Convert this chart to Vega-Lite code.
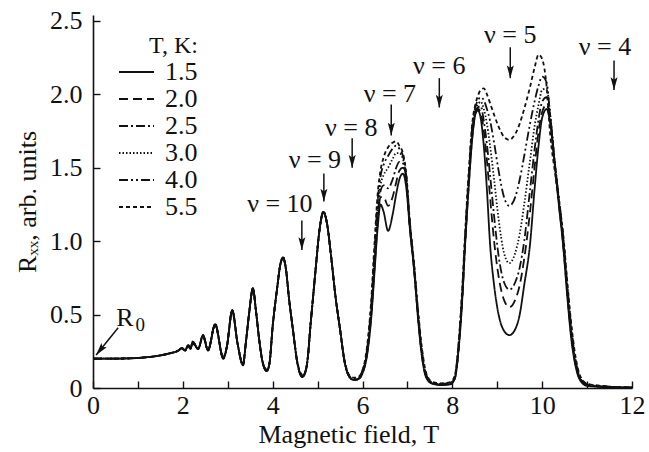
{
  "$schema": "https://vega.github.io/schema/vega-lite/v6.json",
  "width": 539,
  "height": 373,
  "autosize": {"type": "none"},
  "padding": {"left": 93, "top": 15, "right": 17, "bottom": 64},
  "background": "white",
  "config": {
    "font": "Liberation Serif",
    "view": {"stroke": null},
    "axis": {"labelFlush": false, "labelOverlap": false, "grid": false, "labelColor": "#111", "titleColor": "#111", "domainColor": "#111", "tickColor": "#111", "domainWidth": 1.6, "tickWidth": 1.4, "tickSize": -7, "labelFontSize": 26, "titleFontSize": 26, "titleFontWeight": "normal"}
  },
  "layer": [
    {
      "data": {"values": [
        {"B":0,"t15":0.2,"t20":0.2,"t25":0.2,"t30":0.2,"t40":0.2,"t55":0.2},
        {"B":0.4,"t15":0.2,"t20":0.2,"t25":0.2,"t30":0.2,"t40":0.2,"t55":0.2},
        {"B":0.8,"t15":0.202,"t20":0.202,"t25":0.202,"t30":0.202,"t40":0.202,"t55":0.202},
        {"B":1.1,"t15":0.207,"t20":0.207,"t25":0.207,"t30":0.207,"t40":0.207,"t55":0.207},
        {"B":1.4,"t15":0.217,"t20":0.217,"t25":0.217,"t30":0.217,"t40":0.217,"t55":0.217},
        {"B":1.7,"t15":0.235,"t20":0.235,"t25":0.235,"t30":0.235,"t40":0.235,"t55":0.235},
        {"B":1.9,"t15":0.255,"t20":0.255,"t25":0.255,"t30":0.255,"t40":0.255,"t55":0.255},
        {"B":1.98,"t15":0.272,"t20":0.272,"t25":0.272,"t30":0.272,"t40":0.27,"t55":0.266},
        {"B":2.05,"t15":0.255,"t20":0.255,"t25":0.255,"t30":0.255,"t40":0.256,"t55":0.258},
        {"B":2.12,"t15":0.292,"t20":0.292,"t25":0.292,"t30":0.292,"t40":0.288,"t55":0.282},
        {"B":2.17,"t15":0.268,"t20":0.268,"t25":0.268,"t30":0.268,"t40":0.268,"t55":0.268},
        {"B":2.22,"t15":0.315,"t20":0.315,"t25":0.315,"t30":0.315,"t40":0.31,"t55":0.3},
        {"B":2.34,"t15":0.265,"t20":0.265,"t25":0.265,"t30":0.265,"t40":0.267,"t55":0.27},
        {"B":2.45,"t15":0.36,"t20":0.36,"t25":0.36,"t30":0.36,"t40":0.355,"t55":0.345},
        {"B":2.56,"t15":0.255,"t20":0.255,"t25":0.255,"t30":0.255,"t40":0.258,"t55":0.263},
        {"B":2.72,"t15":0.435,"t20":0.435,"t25":0.435,"t30":0.435,"t40":0.43,"t55":0.42},
        {"B":2.9,"t15":0.2,"t20":0.2,"t25":0.2,"t30":0.2,"t40":0.205,"t55":0.21},
        {"B":2.98,"t15":0.28,"t20":0.28,"t25":0.28,"t30":0.28,"t40":0.28,"t55":0.285},
        {"B":3.1,"t15":0.53,"t20":0.53,"t25":0.53,"t30":0.53,"t40":0.525,"t55":0.515},
        {"B":3.22,"t15":0.3,"t20":0.3,"t25":0.3,"t30":0.3,"t40":0.3,"t55":0.3},
        {"B":3.34,"t15":0.155,"t20":0.155,"t25":0.155,"t30":0.155,"t40":0.16,"t55":0.166},
        {"B":3.4,"t15":0.3,"t20":0.3,"t25":0.3,"t30":0.3,"t40":0.3,"t55":0.3},
        {"B":3.48,"t15":0.52,"t20":0.52,"t25":0.52,"t30":0.52,"t40":0.52,"t55":0.52},
        {"B":3.56,"t15":0.68,"t20":0.68,"t25":0.68,"t30":0.68,"t40":0.676,"t55":0.67},
        {"B":3.63,"t15":0.52,"t20":0.52,"t25":0.52,"t30":0.52,"t40":0.52,"t55":0.52},
        {"B":3.7,"t15":0.33,"t20":0.33,"t25":0.33,"t30":0.33,"t40":0.33,"t55":0.33},
        {"B":3.78,"t15":0.17,"t20":0.17,"t25":0.17,"t30":0.17,"t40":0.172,"t55":0.175},
        {"B":3.87,"t15":0.115,"t20":0.115,"t25":0.115,"t30":0.115,"t40":0.12,"t55":0.126},
        {"B":3.93,"t15":0.17,"t20":0.17,"t25":0.17,"t30":0.17,"t40":0.17,"t55":0.17},
        {"B":4.0,"t15":0.42,"t20":0.42,"t25":0.42,"t30":0.42,"t40":0.42,"t55":0.42},
        {"B":4.1,"t15":0.68,"t20":0.68,"t25":0.68,"t30":0.68,"t40":0.68,"t55":0.68},
        {"B":4.17,"t15":0.84,"t20":0.84,"t25":0.84,"t30":0.84,"t40":0.84,"t55":0.84},
        {"B":4.23,"t15":0.89,"t20":0.89,"t25":0.89,"t30":0.89,"t40":0.885,"t55":0.88},
        {"B":4.3,"t15":0.8,"t20":0.8,"t25":0.8,"t30":0.8,"t40":0.8,"t55":0.8},
        {"B":4.36,"t15":0.62,"t20":0.62,"t25":0.62,"t30":0.62,"t40":0.62,"t55":0.62},
        {"B":4.45,"t15":0.4,"t20":0.4,"t25":0.4,"t30":0.4,"t40":0.4,"t55":0.4},
        {"B":4.55,"t15":0.17,"t20":0.17,"t25":0.17,"t30":0.17,"t40":0.175,"t55":0.18},
        {"B":4.66,"t15":0.075,"t20":0.075,"t25":0.075,"t30":0.075,"t40":0.083,"t55":0.092},
        {"B":4.72,"t15":0.1,"t20":0.1,"t25":0.1,"t30":0.1,"t40":0.105,"t55":0.11},
        {"B":4.78,"t15":0.2,"t20":0.2,"t25":0.2,"t30":0.2,"t40":0.2,"t55":0.2},
        {"B":4.84,"t15":0.42,"t20":0.42,"t25":0.42,"t30":0.42,"t40":0.42,"t55":0.42},
        {"B":4.9,"t15":0.62,"t20":0.62,"t25":0.62,"t30":0.62,"t40":0.62,"t55":0.62},
        {"B":4.96,"t15":0.82,"t20":0.82,"t25":0.82,"t30":0.82,"t40":0.82,"t55":0.82},
        {"B":5.04,"t15":1.07,"t20":1.07,"t25":1.07,"t30":1.07,"t40":1.07,"t55":1.07},
        {"B":5.13,"t15":1.2,"t20":1.2,"t25":1.2,"t30":1.2,"t40":1.2,"t55":1.19},
        {"B":5.21,"t15":1.12,"t20":1.12,"t25":1.12,"t30":1.12,"t40":1.12,"t55":1.12},
        {"B":5.3,"t15":0.9,"t20":0.9,"t25":0.9,"t30":0.9,"t40":0.9,"t55":0.9},
        {"B":5.4,"t15":0.62,"t20":0.62,"t25":0.62,"t30":0.62,"t40":0.62,"t55":0.62},
        {"B":5.5,"t15":0.4,"t20":0.4,"t25":0.4,"t30":0.4,"t40":0.4,"t55":0.4},
        {"B":5.6,"t15":0.18,"t20":0.18,"t25":0.18,"t30":0.18,"t40":0.185,"t55":0.19},
        {"B":5.7,"t15":0.08,"t20":0.08,"t25":0.08,"t30":0.08,"t40":0.085,"t55":0.09},
        {"B":5.8,"t15":0.055,"t20":0.055,"t25":0.055,"t30":0.055,"t40":0.062,"t55":0.07},
        {"B":5.9,"t15":0.06,"t20":0.06,"t25":0.06,"t30":0.06,"t40":0.066,"t55":0.074},
        {"B":6.0,"t15":0.1,"t20":0.1,"t25":0.11,"t30":0.11,"t40":0.12,"t55":0.12},
        {"B":6.1,"t15":0.22,"t20":0.23,"t25":0.24,"t30":0.25,"t40":0.26,"t55":0.28},
        {"B":6.19,"t15":0.46,"t20":0.48,"t25":0.5,"t30":0.52,"t40":0.55,"t55":0.58},
        {"B":6.27,"t15":0.8,"t20":0.83,"t25":0.86,"t30":0.9,"t40":0.95,"t55":1.0},
        {"B":6.34,"t15":1.1,"t20":1.14,"t25":1.18,"t30":1.22,"t40":1.28,"t55":1.33},
        {"B":6.4,"t15":1.25,"t20":1.3,"t25":1.34,"t30":1.38,"t40":1.44,"t55":1.48},
        {"B":6.47,"t15":1.2,"t20":1.3,"t25":1.38,"t30":1.45,"t40":1.52,"t55":1.57},
        {"B":6.57,"t15":1.07,"t20":1.24,"t25":1.36,"t30":1.5,"t40":1.58,"t55":1.64},
        {"B":6.67,"t15":1.18,"t20":1.3,"t25":1.42,"t30":1.56,"t40":1.63,"t55":1.67},
        {"B":6.75,"t15":1.32,"t20":1.4,"t25":1.5,"t30":1.6,"t40":1.65,"t55":1.68},
        {"B":6.82,"t15":1.42,"t20":1.48,"t25":1.54,"t30":1.6,"t40":1.63,"t55":1.65},
        {"B":6.9,"t15":1.46,"t20":1.5,"t25":1.53,"t30":1.56,"t40":1.58,"t55":1.6},
        {"B":6.98,"t15":1.35,"t20":1.38,"t25":1.4,"t30":1.42,"t40":1.43,"t55":1.44},
        {"B":7.05,"t15":1.1,"t20":1.11,"t25":1.12,"t30":1.13,"t40":1.14,"t55":1.15},
        {"B":7.15,"t15":0.8,"t20":0.8,"t25":0.81,"t30":0.82,"t40":0.83,"t55":0.84},
        {"B":7.24,"t15":0.46,"t20":0.47,"t25":0.48,"t30":0.49,"t40":0.5,"t55":0.52},
        {"B":7.32,"t15":0.22,"t20":0.23,"t25":0.24,"t30":0.25,"t40":0.26,"t55":0.28},
        {"B":7.42,"t15":0.07,"t20":0.075,"t25":0.08,"t30":0.085,"t40":0.09,"t55":0.1},
        {"B":7.55,"t15":0.03,"t20":0.032,"t25":0.034,"t30":0.036,"t40":0.038,"t55":0.042},
        {"B":7.75,"t15":0.02,"t20":0.022,"t25":0.024,"t30":0.026,"t40":0.028,"t55":0.032},
        {"B":7.95,"t15":0.025,"t20":0.027,"t25":0.03,"t30":0.032,"t40":0.035,"t55":0.04},
        {"B":8.05,"t15":0.06,"t20":0.06,"t25":0.06,"t30":0.07,"t40":0.07,"t55":0.08},
        {"B":8.15,"t15":0.3,"t20":0.3,"t25":0.31,"t30":0.32,"t40":0.33,"t55":0.35},
        {"B":8.22,"t15":0.6,"t20":0.6,"t25":0.62,"t30":0.63,"t40":0.65,"t55":0.68},
        {"B":8.28,"t15":0.95,"t20":0.95,"t25":0.97,"t30":0.98,"t40":1.0,"t55":1.03},
        {"B":8.36,"t15":1.35,"t20":1.36,"t25":1.38,"t30":1.4,"t40":1.42,"t55":1.45},
        {"B":8.45,"t15":1.72,"t20":1.73,"t25":1.75,"t30":1.77,"t40":1.8,"t55":1.82},
        {"B":8.52,"t15":1.87,"t20":1.88,"t25":1.89,"t30":1.9,"t40":1.92,"t55":1.94},
        {"B":8.57,"t15":1.89,"t20":1.9,"t25":1.91,"t30":1.93,"t40":1.96,"t55":1.99},
        {"B":8.63,"t15":1.84,"t20":1.88,"t25":1.92,"t30":1.95,"t40":1.98,"t55":2.03},
        {"B":8.7,"t15":1.65,"t20":1.75,"t25":1.82,"t30":1.9,"t40":1.96,"t55":2.04},
        {"B":8.77,"t15":1.35,"t20":1.55,"t25":1.66,"t30":1.8,"t40":1.9,"t55":2.0},
        {"B":8.84,"t15":0.98,"t20":1.3,"t25":1.45,"t30":1.65,"t40":1.82,"t55":1.94},
        {"B":8.93,"t15":0.7,"t20":1.0,"t25":1.17,"t30":1.42,"t40":1.67,"t55":1.86},
        {"B":9.03,"t15":0.5,"t20":0.76,"t25":0.9,"t30":1.15,"t40":1.48,"t55":1.78},
        {"B":9.15,"t15":0.39,"t20":0.6,"t25":0.72,"t30":0.92,"t40":1.3,"t55":1.71},
        {"B":9.27,"t15":0.36,"t20":0.55,"t25":0.67,"t30":0.85,"t40":1.24,"t55":1.69},
        {"B":9.4,"t15":0.4,"t20":0.6,"t25":0.72,"t30":0.92,"t40":1.3,"t55":1.73},
        {"B":9.5,"t15":0.5,"t20":0.7,"t25":0.82,"t30":1.05,"t40":1.42,"t55":1.8},
        {"B":9.6,"t15":0.7,"t20":0.88,"t25":1.0,"t30":1.25,"t40":1.58,"t55":1.9},
        {"B":9.73,"t15":0.98,"t20":1.2,"t25":1.35,"t30":1.55,"t40":1.8,"t55":2.05},
        {"B":9.83,"t15":1.35,"t20":1.5,"t25":1.62,"t30":1.78,"t40":1.95,"t55":2.18},
        {"B":9.92,"t15":1.65,"t20":1.75,"t25":1.83,"t30":1.93,"t40":2.06,"t55":2.27},
        {"B":10.0,"t15":1.84,"t20":1.88,"t25":1.95,"t30":2.03,"t40":2.12,"t55":2.24},
        {"B":10.1,"t15":1.9,"t20":1.93,"t25":1.98,"t30":2.04,"t40":2.08,"t55":2.05},
        {"B":10.18,"t15":1.8,"t20":1.83,"t25":1.85,"t30":1.86,"t40":1.84,"t55":1.72},
        {"B":10.27,"t15":1.55,"t20":1.56,"t25":1.57,"t30":1.57,"t40":1.56,"t55":1.5},
        {"B":10.37,"t15":1.25,"t20":1.26,"t25":1.28,"t30":1.29,"t40":1.3,"t55":1.28},
        {"B":10.47,"t15":0.96,"t20":0.97,"t25":0.99,"t30":1.01,"t40":1.03,"t55":1.04},
        {"B":10.56,"t15":0.62,"t20":0.64,"t25":0.66,"t30":0.68,"t40":0.7,"t55":0.72},
        {"B":10.65,"t15":0.33,"t20":0.35,"t25":0.37,"t30":0.39,"t40":0.41,"t55":0.43},
        {"B":10.75,"t15":0.14,"t20":0.15,"t25":0.16,"t30":0.17,"t40":0.18,"t55":0.2},
        {"B":10.85,"t15":0.05,"t20":0.055,"t25":0.06,"t30":0.065,"t40":0.07,"t55":0.08},
        {"B":11.0,"t15":0.015,"t20":0.018,"t25":0.02,"t30":0.022,"t40":0.025,"t55":0.03},
        {"B":11.5,"t15":0.005,"t20":0.006,"t25":0.007,"t30":0.008,"t40":0.009,"t55":0.01},
        {"B":12.0,"t15":0.003,"t20":0.003,"t25":0.003,"t30":0.003,"t40":0.003,"t55":0.003}
      ]},
      "transform": [{"fold": ["t15","t20","t25","t30","t40","t55"], "as": ["T","R"]}],
      "mark": {"type": "line", "interpolate": "monotone", "color": "#111", "strokeWidth": 1.8},
      "encoding": {
        "x": {"field": "B", "type": "quantitative", "scale": {"domain": [0, 12], "nice": false, "zero": false},
          "axis": {"title": "Magnetic field, T", "values": [0,1,2,3,4,5,6,7,8,9,10,11,12], "labelExpr": "datum.value % 2 == 0 ? datum.label : ''", "labelPadding": 11, "titlePadding": 3, "titleX": 165, "titleAlign": "left"}},
        "y": {"field": "R", "type": "quantitative", "scale": {"domain": [0, 2.54], "nice": false},
          "axis": {"title": "Rₓₓ, arb. units", "values": [0,0.25,0.5,0.75,1,1.25,1.5,1.75,2,2.25,2.5], "labelExpr": "datum.value == 0 ? '0' : ((datum.value * 2) % 1 == 0 ? format(datum.value, '.1f') : '')", "labelPadding": 18, "titlePadding": 9}},
        "strokeDash": {"field": "T", "type": "nominal",
          "scale": {"domain": ["t15","t20","t25","t30","t40","t55"], "range": [[1,0],[9,5],[9,3,2,3],[1.5,2],[9,3,2,3,2,3],[4,3]]},
          "legend": {"orient": "none", "legendX": 25, "legendY": 19, "padding": 0,
            "title": "T, K:", "titleFontSize": 24, "titleFontWeight": "normal", "titleAnchor": "end", "titlePadding": 3, "titleColor": "#111",
            "symbolType": "stroke", "symbolSize": 1225, "symbolStrokeWidth": 1.8, "symbolStrokeColor": "#111",
            "clipHeight": 22, "rowPadding": 1, "labelOffset": 10, "labelFontSize": 26, "labelColor": "#111",
            "labelExpr": "{'t15':'1.5','t20':'2.0','t25':'2.5','t30':'3.0','t40':'4.0','t55':'5.5'}[datum.label]"}}
      }
    },
    {
      "data": {"values": [
        {"B":4.65,"R":1.14,"B2":4.65,"R2":0.94},
        {"B":5.14,"R":1.46,"B2":5.14,"R2":1.27},
        {"B":5.77,"R":1.7,"B2":5.77,"R2":1.5},
        {"B":6.64,"R":1.93,"B2":6.64,"R2":1.72},
        {"B":7.71,"R":2.11,"B2":7.71,"R2":1.91},
        {"B":9.29,"R":2.32,"B2":9.29,"R2":2.11},
        {"B":11.6,"R":2.23,"B2":11.6,"R2":2.03},
        {"B":0.56,"R":0.41,"B2":0.07,"R2":0.225}
      ]},
      "mark": {"type": "rule", "color": "#111", "strokeWidth": 1.5},
      "encoding": {
        "x": {"field": "B", "type": "quantitative"},
        "y": {"field": "R", "type": "quantitative"},
        "x2": {"field": "B2"},
        "y2": {"field": "R2"}
      }
    },
    {
      "data": {"values": [
        {"B":4.65,"R":0.94,"a":0},
        {"B":5.14,"R":1.27,"a":0},
        {"B":5.77,"R":1.5,"a":0},
        {"B":6.64,"R":1.72,"a":0},
        {"B":7.71,"R":1.91,"a":0},
        {"B":9.29,"R":2.11,"a":0},
        {"B":11.6,"R":2.03,"a":0},
        {"B":0.07,"R":0.225,"a":39}
      ]},
      "mark": {"type": "point", "filled": true, "color": "#111", "opacity": 1, "shape": "M-0.55,-2L0,-1.6L0.55,-2L0,0Z", "size": 160},
      "encoding": {
        "x": {"field": "B", "type": "quantitative"},
        "y": {"field": "R", "type": "quantitative"},
        "angle": {"field": "a", "type": "quantitative", "scale": null}
      }
    },
    {
      "data": {"values": [
        {"B":4.16,"R":1.25,"label":"ν = 10"},
        {"B":4.94,"R":1.55,"label":"ν = 9"},
        {"B":5.75,"R":1.77,"label":"ν = 8"},
        {"B":6.61,"R":2.0,"label":"ν = 7"},
        {"B":7.71,"R":2.19,"label":"ν = 6"},
        {"B":9.29,"R":2.405,"label":"ν = 5"},
        {"B":11.4,"R":2.32,"label":"ν = 4"}
      ]},
      "mark": {"type": "text", "fontSize": 26, "color": "#111", "align": "center", "baseline": "middle"},
      "encoding": {
        "x": {"field": "B", "type": "quantitative"},
        "y": {"field": "R", "type": "quantitative"},
        "text": {"field": "label"}
      }
    },
    {
      "data": {"values": [
        {"B":0.71,"R":0.48,"label":"R","fs":26,"st":"italic"},
        {"B":1.05,"R":0.43,"label":"0","fs":19,"st":"normal"}
      ]},
      "mark": {"type": "text", "color": "#111", "align": "center", "baseline": "middle"},
      "encoding": {
        "x": {"field": "B", "type": "quantitative"},
        "y": {"field": "R", "type": "quantitative"},
        "text": {"field": "label"},
        "size": {"field": "fs", "type": "quantitative", "scale": null},
        "fontStyle": {"field": "st", "type": "nominal", "scale": null}
      }
    }
  ]
}
